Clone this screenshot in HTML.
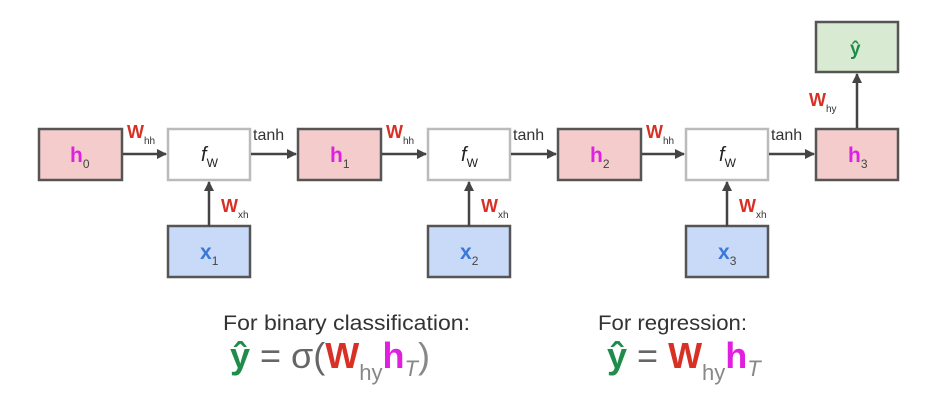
<!DOCTYPE html>
<html><head><meta charset="utf-8"><style>body{margin:0;background:#fff}svg{display:block}</style></head><body>
<svg width="940" height="403" xmlns="http://www.w3.org/2000/svg" font-family="Liberation Sans, sans-serif">
<defs><marker id="a" markerWidth="10" markerHeight="10" refX="9" refY="5" orient="auto" markerUnits="userSpaceOnUse"><path d="M0,0 L10,5 L0,10 z" fill="#444"/></marker></defs>
<g stroke="#555" stroke-width="2.5">
<rect x="39" y="129" width="83" height="51" fill="#f4cccc"/>
<rect x="168" y="129" width="82" height="51" fill="#fff" stroke="#bbb"/>
<rect x="298" y="129" width="83" height="51" fill="#f4cccc"/>
<rect x="428" y="129" width="82" height="51" fill="#fff" stroke="#bbb"/>
<rect x="558" y="129" width="83" height="51" fill="#f4cccc"/>
<rect x="686" y="129" width="82" height="51" fill="#fff" stroke="#bbb"/>
<rect x="816" y="129" width="82" height="51" fill="#f4cccc"/>
<rect x="816" y="22" width="82" height="50" fill="#d9ead3"/>
<rect x="168" y="226" width="82" height="51" fill="#c9daf8"/>
<rect x="428" y="226" width="82" height="51" fill="#c9daf8"/>
<rect x="686" y="226" width="82" height="51" fill="#c9daf8"/>
</g>
<g stroke="#444" stroke-width="2.5" marker-end="url(#a)">
<line x1="123" y1="154" x2="166" y2="154"/><line x1="251" y1="154" x2="296" y2="154"/>
<line x1="382" y1="154" x2="426" y2="154"/><line x1="511" y1="154" x2="556" y2="154"/>
<line x1="642" y1="154" x2="684" y2="154"/><line x1="769" y1="154" x2="814" y2="154"/>
<line x1="209" y1="226" x2="209" y2="182"/><line x1="469" y1="226" x2="469" y2="182"/>
<line x1="727" y1="226" x2="727" y2="182"/><line x1="857" y1="128" x2="857" y2="74"/>
</g>
<g font-weight="bold" font-size="21">
<text x="70" y="162" fill="#e020e0">h<tspan font-size="12" font-weight="normal" fill="#444" dy="6">0</tspan></text>
<text x="330" y="162" fill="#e020e0">h<tspan font-size="12" font-weight="normal" fill="#444" dy="6">1</tspan></text>
<text x="590" y="162" fill="#e020e0">h<tspan font-size="12" font-weight="normal" fill="#444" dy="6">2</tspan></text>
<text x="848" y="162" fill="#e020e0">h<tspan font-size="12" font-weight="normal" fill="#444" dy="6">3</tspan></text>
<text x="200" y="259" fill="#3c78d8">x<tspan font-size="12" font-weight="normal" fill="#444" dy="6">1</tspan></text>
<text x="460" y="259" fill="#3c78d8">x<tspan font-size="12" font-weight="normal" fill="#444" dy="6">2</tspan></text>
<text x="718" y="259" fill="#3c78d8">x<tspan font-size="12" font-weight="normal" fill="#444" dy="6">3</tspan></text>
<text x="850" y="55" fill="#1e8c4a" font-size="19">ŷ</text>
</g>
<g font-size="20" font-style="italic" fill="#222">
<text x="201" y="161">f<tspan font-style="normal" font-size="12" dy="6">W</tspan></text>
<text x="461" y="161">f<tspan font-style="normal" font-size="12" dy="6">W</tspan></text>
<text x="719" y="161">f<tspan font-style="normal" font-size="12" dy="6">W</tspan></text>
</g>
<g font-size="16" fill="#333">
<text x="253" y="140">tanh</text><text x="513" y="140">tanh</text><text x="771" y="140">tanh</text>
</g>
<g font-size="18" font-weight="bold" fill="#d93025">
<text x="127" y="138">W<tspan font-size="10" font-weight="normal" fill="#333" dy="6">hh</tspan></text>
<text x="386" y="138">W<tspan font-size="10" font-weight="normal" fill="#333" dy="6">hh</tspan></text>
<text x="646" y="138">W<tspan font-size="10" font-weight="normal" fill="#333" dy="6">hh</tspan></text>
<text x="221" y="212">W<tspan font-size="10" font-weight="normal" fill="#333" dy="6">xh</tspan></text>
<text x="481" y="212">W<tspan font-size="10" font-weight="normal" fill="#333" dy="6">xh</tspan></text>
<text x="739" y="212">W<tspan font-size="10" font-weight="normal" fill="#333" dy="6">xh</tspan></text>
<text x="809" y="106">W<tspan font-size="10" font-weight="normal" fill="#333" dy="6">hy</tspan></text>
</g>
<g font-size="21" fill="#333">
<text x="223" y="330" textLength="247" lengthAdjust="spacingAndGlyphs">For binary classification:</text>
<text x="598" y="330" textLength="149" lengthAdjust="spacingAndGlyphs">For regression:</text>
</g>
<g font-size="36">
<text x="230" y="368"><tspan fill="#1e8c4a" font-weight="bold">ŷ</tspan><tspan fill="#666"> = σ(</tspan><tspan fill="#d93025" font-weight="bold">W</tspan><tspan fill="#888" font-size="22" dy="12">hy</tspan><tspan fill="#e020e0" font-weight="bold" dy="-12">h</tspan><tspan fill="#888" font-size="22" font-style="italic" dy="8">T</tspan><tspan fill="#888" dy="-8">)</tspan></text>
<text x="607" y="368"><tspan fill="#1e8c4a" font-weight="bold">ŷ</tspan><tspan fill="#666"> = </tspan><tspan fill="#d93025" font-weight="bold">W</tspan><tspan fill="#888" font-size="22" dy="12">hy</tspan><tspan fill="#e020e0" font-weight="bold" dy="-12">h</tspan><tspan fill="#888" font-size="22" font-style="italic" dy="8">T</tspan></text>
</g>
</svg>
</body></html>
